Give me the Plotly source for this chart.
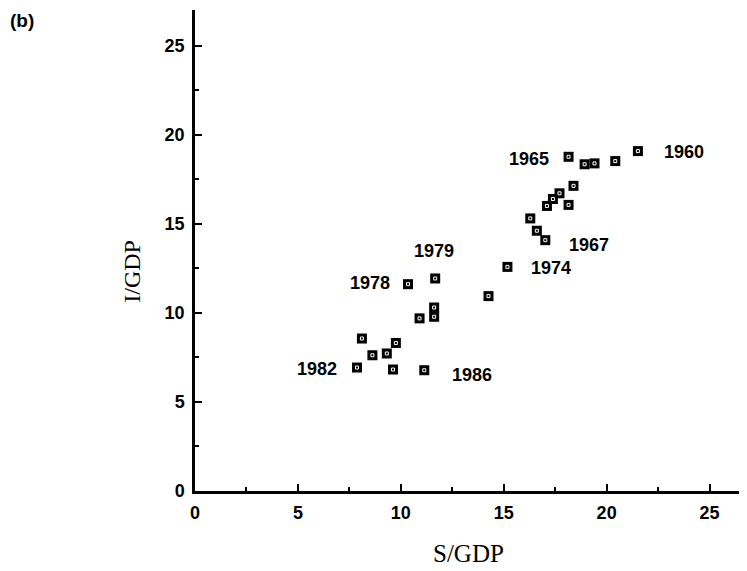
import plotly.graph_objects as go

# Data (percent of GDP)
s_gdp = [10.35, 11.67, 14.26, 11.62, 11.62, 10.91, 8.11, 9.76, 9.32, 8.62, 7.87, 9.62, 11.14,
         18.15, 18.93, 19.41, 20.42, 21.52, 18.39, 17.71, 17.39, 17.10, 18.15, 16.29, 16.61, 17.02, 15.18]
i_gdp = [11.61, 11.93, 10.94, 10.30, 9.78, 9.69, 8.56, 8.31, 7.72, 7.62, 6.93, 6.82, 6.78,
         18.76, 18.34, 18.39, 18.52, 19.08, 17.13, 16.71, 16.39, 16.00, 16.06, 15.30, 14.61, 14.08, 12.58]

# year labels and the point each one names (index into the arrays above)
label_years = ["1960", "1965", "1967", "1974", "1978", "1979", "1982", "1986"]
label_index = [17, 13, 25, 26, 0, 1, 10, 12]

x_ticks = [0, 5, 10, 15, 20, 25]
y_ticks = [0, 5, 10, 15, 20, 25]
x_minor = [2.5, 7.5, 12.5, 17.5, 22.5]
y_minor = [2.5, 7.5, 12.5, 17.5, 22.5]

fig = go.Figure()
fig.add_trace(go.Scatter(x=s_gdp, y=i_gdp, mode="markers",
                         marker=dict(symbol="square", size=10, color="black"),
                         hoverinfo="skip", showlegend=False))
fig.add_trace(go.Scatter(x=s_gdp, y=i_gdp, mode="markers",
                         marker=dict(symbol="square-open", size=3, color="white",
                                     line=dict(width=1, color="white")),
                         hoverinfo="skip", showlegend=False))

# label placement: (xanchor, xshift, yshift)
placement = {
    "1960": ("left", 24, -1),
    "1965": ("right", -18, -2),
    "1967": ("left", 22, -5),
    "1974": ("left", 22, -1),
    "1978": ("right", -16, 1),
    "1979": ("center", -1, 27),
    "1982": ("right", -18, -1),
    "1986": ("left", 26, -5),
}
for yr, idx in zip(label_years, label_index):
    xa, xs, ys = placement[yr]
    fig.add_annotation(x=s_gdp[idx], y=i_gdp[idx], text=yr, showarrow=False,
                       xanchor=xa, yanchor="middle", xshift=xs, yshift=ys,
                       font=dict(family="Liberation Sans", size=18, color="black", weight="bold"))

tickfont = dict(family="Liberation Sans", size=18, color="black", weight="bold")
axis_common = dict(showline=True, linecolor="black", linewidth=2.5, showgrid=False,
                   zeroline=False, ticks="inside", ticklen=7, tickwidth=2, tickcolor="black",
                   tickfont=tickfont)

fig.update_xaxes(range=[0, 26.82], tickvals=x_ticks, ticklabelstandoff=4,
                 minor=dict(tickvals=x_minor, ticks="inside", ticklen=4, tickwidth=2,
                            tickcolor="black"), **axis_common)
fig.update_yaxes(range=[0, 27.0], tickvals=y_ticks, ticklabelstandoff=4,
                 minor=dict(tickvals=y_minor, ticks="inside", ticklen=4, tickwidth=2,
                            tickcolor="black"), **axis_common)

fig.add_annotation(xref="paper", yref="paper", x=0.4946, y=-0.1296, text="S/GDP",
                   showarrow=False, xanchor="center", yanchor="middle",
                   font=dict(family="Liberation Serif", size=25, color="black"))
fig.add_annotation(xref="paper", yref="paper", x=-0.114, y=0.456, text="I/GDP",
                   showarrow=False, xanchor="center", yanchor="middle", textangle=-90,
                   font=dict(family="Liberation Serif", size=24, color="black"))
fig.add_annotation(xref="paper", yref="paper", x=-0.339, y=0.979, text="(b)",
                   showarrow=False, xanchor="left", yanchor="middle",
                   font=dict(family="Liberation Sans", size=19, color="black", weight="bold"))

# the page body adds an 8px offset; margins compensate so the plot sits where the reference has it
fig.update_layout(width=747, height=571, margin=dict(l=187, r=8, t=2, b=88),
                  plot_bgcolor="white", paper_bgcolor="white")

fig.write_html("out.html")
